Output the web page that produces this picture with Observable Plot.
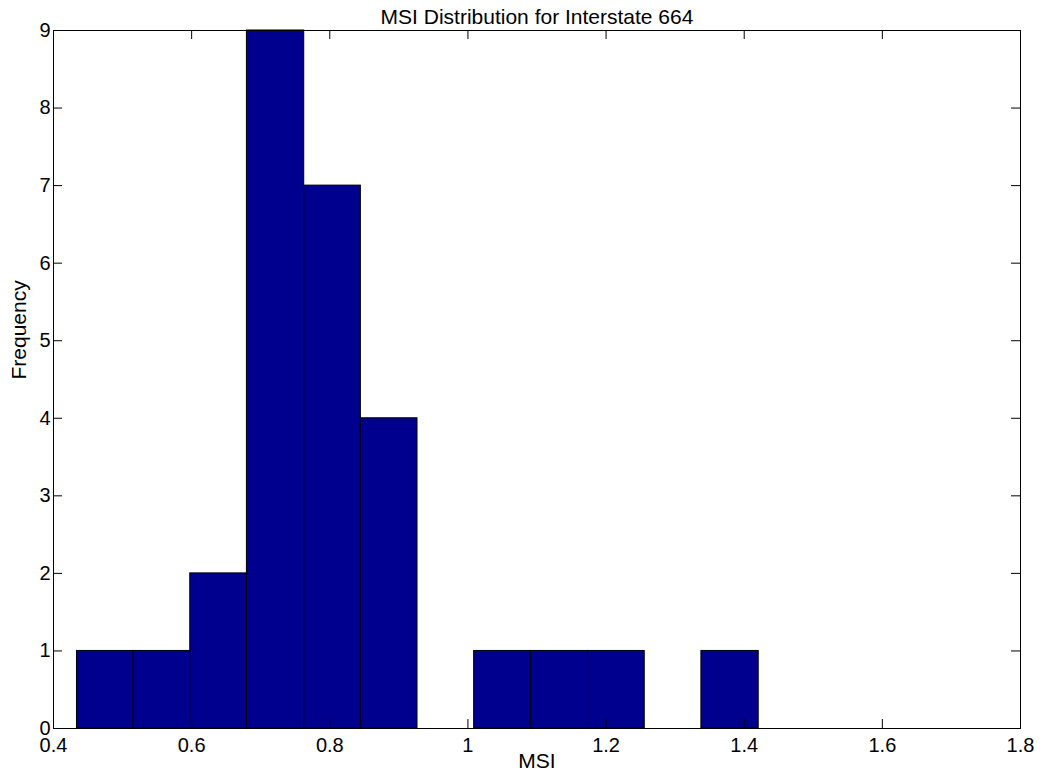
<!DOCTYPE html>
<html>
<head>
<meta charset="utf-8">
<script src="https://cdn.jsdelivr.net/npm/d3@7"></script>
<script src="https://cdn.jsdelivr.net/npm/@observablehq/plot@0.6"></script>
<style>
  html, body { margin: 0; padding: 0; background: #fff; }
  #chart svg { display: block; }
</style>
</head>
<body>
<div id="chart"></div>
<script>
// Histogram of MSI values along Interstate 664 (12 equal-width bins)
const binEdges = [0.434, 0.516, 0.598, 0.680, 0.763, 0.845, 0.927, 1.009, 1.091, 1.174, 1.256, 1.338, 1.421];
const binCounts = [1, 1, 2, 9, 7, 4, 0, 1, 1, 1, 0, 1];

const xTicks = [0.4, 0.6, 0.8, 1.0, 1.2, 1.4, 1.6, 1.8];
const xTickLabels = ["0.4", "0.6", "0.8", "1", "1.2", "1.4", "1.6", "1.8"];
const yTicks = [0, 1, 2, 3, 4, 5, 6, 7, 8, 9];

const titleText = "MSI Distribution for Interstate 664";
const xLabel = "MSI";
const yLabel = "Frequency";

const bins = binCounts.map((count, i) => ({x1: binEdges[i], x2: binEdges[i + 1], count}));

const W = 1045, H = 782;
const mL = 53, mR = 25, mT = 30, mB = 54;
const innerW = W - mL - mR, innerH = H - mT - mB;
const tickLen = 9;
const font = "'Liberation Sans', Arial, Helvetica, sans-serif";

const chart = Plot.plot({
  width: W,
  height: H,
  marginLeft: mL,
  marginRight: mR,
  marginTop: mT,
  marginBottom: mB,
  style: {fontFamily: font, background: "#fff", color: "#000"},
  x: {domain: [0.4, 1.8]},
  y: {domain: [0, 9]},
  marks: [
    Plot.rectY(bins, {x1: "x1", x2: "x2", y: "count", fill: "#00008F", stroke: "#000", strokeWidth: 1}),
    // inward ticks on all four sides of the box
    Plot.tickX(xTicks, {x: d => d, insetTop: innerH - tickLen, stroke: "#000"}),
    Plot.tickX(xTicks, {x: d => d, insetBottom: innerH - tickLen, stroke: "#000"}),
    Plot.tickY(yTicks, {y: d => d, insetRight: innerW - tickLen, stroke: "#000"}),
    Plot.tickY(yTicks, {y: d => d, insetLeft: innerW - tickLen, stroke: "#000"}),
    Plot.frame({stroke: "#000", strokeWidth: 1}),
    Plot.axisX({ticks: xTicks, tickSize: 0, tickPadding: 9, fontSize: 20, label: null,
                tickFormat: (d, i) => xTickLabels[i]}),
    Plot.axisY({ticks: yTicks, tickSize: 0, tickPadding: 3, fontSize: 20, label: null,
                tickFormat: d => String(d)}),
    Plot.text([titleText], {text: d => d, frameAnchor: "top", dy: -21, fontSize: 21, fill: "#000"}),
    Plot.text([xLabel], {text: d => d, frameAnchor: "bottom", dy: 39, fontSize: 21, fill: "#000"}),
    Plot.text([yLabel], {text: d => d, frameAnchor: "left", dx: -34, rotate: -90, fontSize: 21, fill: "#000"})
  ]
});

document.getElementById("chart").appendChild(chart);
</script>
</body>
</html>
